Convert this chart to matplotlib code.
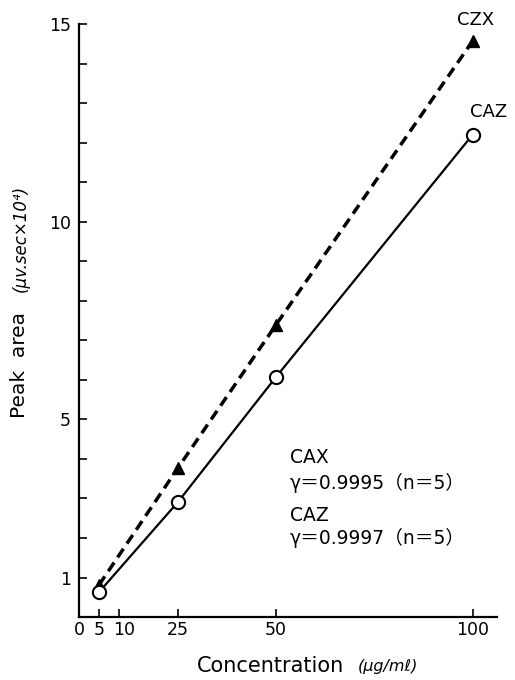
import numpy as np
import matplotlib.pyplot as plt
from matplotlib.transforms import ScaledTranslation

plt.rcParams['font.family'] = ['DejaVu Sans', 'Noto Sans CJK JP']

# Data
conc = [5, 25, 50, 100]
cax = [0.81, 3.76, 7.39, 14.57]   # triangles, dashed line
caz = [0.63, 2.90, 6.07, 12.20]   # open circles, solid line

xtick_pos = [0, 5, 10, 25, 50, 100]
xtick_lab = ['0', '5', '10', '25', '50', '100']
ytick_pos = [1, 5, 10, 15]
ytick_minor = [2, 3, 4, 6, 7, 8, 9, 11, 12, 13, 14]

fig = plt.figure(figsize=(5.15, 6.8), dpi=100)
ax = fig.add_axes([0.154, 0.0926, 0.811, 0.872])

ax.plot(conc, cax, color='black', lw=2.5, dashes=(3, 1.8),
        marker='^', ms=9, mfc='black', mec='black', zorder=2, clip_on=False)
ax.plot(conc, caz, color='black', lw=1.6,
        marker='o', ms=9.5, mfc='white', mec='black', mew=1.5, zorder=3, clip_on=False)

ax.set_xlim(0, 106.2)
ax.set_ylim(0, 15)
ax.spines['top'].set_visible(False)
ax.spines['right'].set_visible(False)
ax.spines['left'].set_linewidth(1.6)
ax.spines['bottom'].set_linewidth(1.6)

ax.set_xticks(xtick_pos)
ax.set_xticklabels(xtick_lab)
ax.set_yticks(ytick_pos)
ax.set_yticks(ytick_minor, minor=True)
ax.tick_params(axis='both', which='both', direction='in', length=6, width=1.2, labelsize=12.5)
ax.tick_params(axis='y', which='major', pad=6)
ax.tick_params(axis='x', which='major', pad=3)

# nudge "10" away from "5"
lab10 = ax.get_xticklabels()[2]
lab10.set_transform(lab10.get_transform() + ScaledTranslation(0.05, 0, fig.dpi_scale_trans))

# axis titles
fig.text(20/515, 1-365/680, 'Peak  area', rotation=90, ha='center', va='center', fontsize=14.5)
fig.text(21/515, 1-238/680, '(μv.sec×10⁴)', rotation=90, ha='center', va='center',
         fontsize=12, style='italic')
fig.text(197/515, 1-666/680, 'Concentration', ha='left', va='center', fontsize=15)
fig.text(358/515, 1-666/680, '(μg/mℓ)', ha='left', va='center', fontsize=11.5, style='italic')

# line labels
ax.text(100.7, 15.1, 'CZX', ha='center', va='center', fontsize=13, clip_on=False)
ax.text(104, 12.77, 'CAZ', ha='center', va='center', fontsize=13, clip_on=False)

# correlation block
ax.text(53.6, 4.04, 'CAX', ha='left', va='center', fontsize=13.5)
ax.text(53.6, 3.38, 'γ＝0.9995（n＝5）', ha='left', va='center', fontsize=13.5)
ax.text(53.6, 2.56, 'CAZ', ha='left', va='center', fontsize=13.5)
ax.text(53.6, 2.00, 'γ＝0.9997（n＝5）', ha='left', va='center', fontsize=13.5)

fig.savefig('out.png', dpi=100)
